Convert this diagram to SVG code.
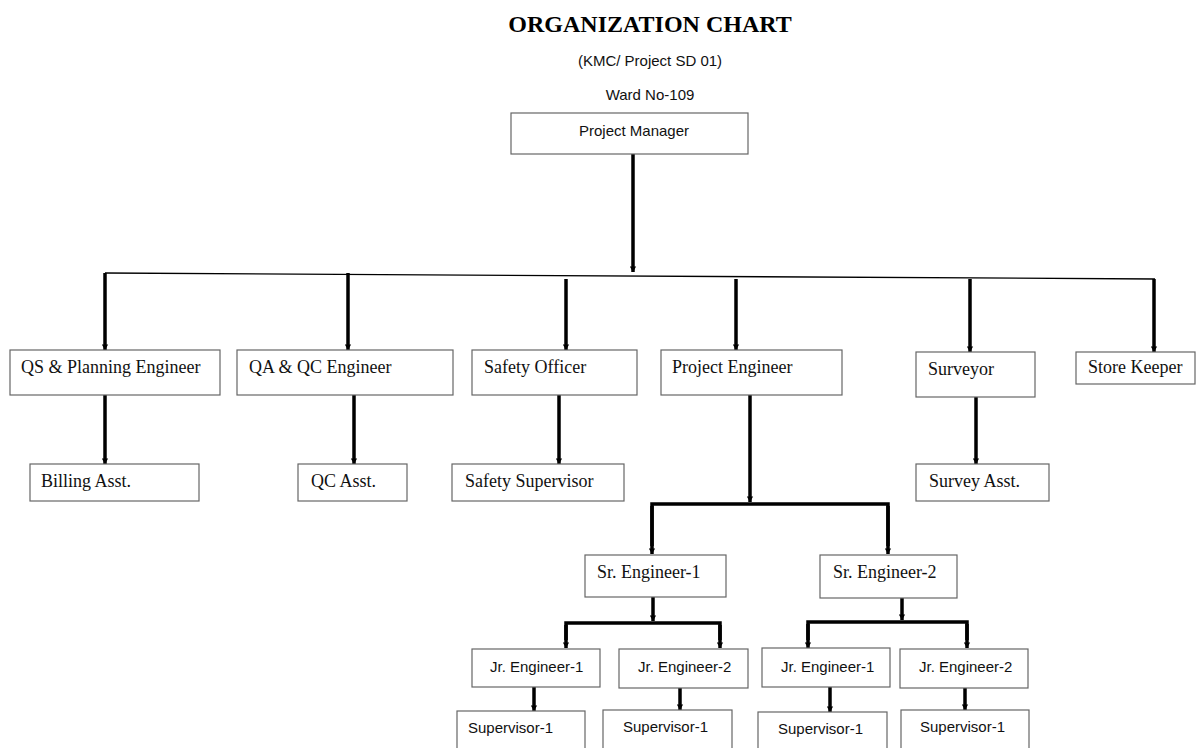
<svg xmlns="http://www.w3.org/2000/svg" width="1198" height="748" viewBox="0 0 1198 748">
<style>
.box{fill:#fff;stroke:#666;stroke-width:1.2}
.tt{font-family:"Liberation Serif",serif;font-size:18px;fill:#111}
.st{font-family:"Liberation Sans",sans-serif;font-size:15px;fill:#111}
.ln{stroke:#000;stroke-width:3.5;fill:none}
.thin{stroke:#000;stroke-width:1.3;fill:none}
</style>
<defs>
<marker id="a" markerUnits="userSpaceOnUse" markerWidth="9" markerHeight="7" refX="7" refY="4.5" orient="auto" viewBox="0 0 9 9">
<path d="M0,0.5 L7,4.5 L0,8.5 Z" fill="#000"/>
</marker>
</defs>
<rect width="1198" height="748" fill="#fff"/>
<text x="650" y="32" text-anchor="middle" font-family="Liberation Serif, serif" font-size="24" font-weight="bold">ORGANIZATION CHART</text>
<text x="650" y="66" text-anchor="middle" class="st" font-size="14">(KMC/ Project SD 01)</text>
<text x="650" y="100" text-anchor="middle" class="st" font-size="14">Ward No-109</text>

<g id="connectors">
<line class="ln" x1="633" y1="154" x2="633" y2="272" marker-end="url(#a)"/>
<line class="thin" x1="105" y1="273" x2="1155" y2="279"/>
<line class="ln" x1="105" y1="273" x2="105" y2="350" marker-end="url(#a)"/>
<line class="ln" x1="348" y1="273" x2="348" y2="350" marker-end="url(#a)"/>
<line class="ln" x1="566" y1="279" x2="566" y2="350" marker-end="url(#a)"/>
<line class="ln" x1="736" y1="279" x2="736" y2="350" marker-end="url(#a)"/>
<line class="ln" x1="970" y1="279" x2="970" y2="352" marker-end="url(#a)"/>
<line class="ln" x1="1154" y1="279" x2="1154" y2="352" marker-end="url(#a)"/>
<line class="ln" x1="105" y1="395" x2="105" y2="464" marker-end="url(#a)"/>
<line class="ln" x1="354" y1="395" x2="354" y2="464" marker-end="url(#a)"/>
<line class="ln" x1="559" y1="395" x2="559" y2="464" marker-end="url(#a)"/>
<line class="ln" x1="976" y1="397" x2="976" y2="464" marker-end="url(#a)"/>
<line class="ln" x1="750" y1="395" x2="750" y2="502" marker-end="url(#a)"/>
<polyline class="ln" points="652,546 652,504 888,504 888,546"/>
<line class="ln" x1="652" y1="506" x2="652" y2="554" marker-end="url(#a)"/>
<line class="ln" x1="888" y1="506" x2="888" y2="554" marker-end="url(#a)"/>
<line class="ln" x1="653" y1="597" x2="653" y2="621" marker-end="url(#a)"/>
<polyline class="ln" points="566,640 566,623 720,623 720,640"/>
<line class="ln" x1="566" y1="625" x2="566" y2="648" marker-end="url(#a)"/>
<line class="ln" x1="720" y1="625" x2="720" y2="648" marker-end="url(#a)"/>
<line class="ln" x1="902" y1="598" x2="902" y2="620" marker-end="url(#a)"/>
<polyline class="ln" points="808,640 808,622 967,622 967,640"/>
<line class="ln" x1="808" y1="624" x2="808" y2="648" marker-end="url(#a)"/>
<line class="ln" x1="967" y1="624" x2="967" y2="648" marker-end="url(#a)"/>
<line class="ln" x1="534" y1="687" x2="534" y2="711" marker-end="url(#a)"/>
<line class="ln" x1="680" y1="688" x2="680" y2="710" marker-end="url(#a)"/>
<line class="ln" x1="830" y1="687" x2="830" y2="712" marker-end="url(#a)"/>
<line class="ln" x1="965" y1="688" x2="965" y2="710" marker-end="url(#a)"/>
</g>

<g id="pm"><rect class="box" x="511" y="113" width="237" height="41"/><text class="st" x="634" y="136" text-anchor="middle">Project Manager</text></g>
<g id="qs"><rect class="box" x="10" y="350" width="210" height="45"/><text class="tt" x="21" y="373">QS &amp; Planning Engineer</text></g>
<g id="qa"><rect class="box" x="237" y="350" width="216" height="45"/><text class="tt" x="249" y="373">QA &amp; QC Engineer</text></g>
<g id="safety"><rect class="box" x="472" y="350" width="165" height="45"/><text class="tt" x="484" y="373">Safety Officer</text></g>
<g id="pe"><rect class="box" x="661" y="350" width="181" height="45"/><text class="tt" x="672" y="373">Project Engineer</text></g>
<g id="surveyor"><rect class="box" x="916" y="352" width="119" height="45"/><text class="tt" x="928" y="375">Surveyor</text></g>
<g id="store"><rect class="box" x="1076" y="352" width="119" height="32"/><text class="tt" x="1088" y="373">Store Keeper</text></g>
<g id="billing"><rect class="box" x="30" y="464" width="169" height="37"/><text class="tt" x="41" y="487">Billing Asst.</text></g>
<g id="qcasst"><rect class="box" x="298" y="464" width="109" height="37"/><text class="tt" x="311" y="487">QC Asst.</text></g>
<g id="safetysup"><rect class="box" x="452" y="464" width="172" height="37"/><text class="tt" x="465" y="487">Safety Supervisor</text></g>
<g id="surveyasst"><rect class="box" x="916" y="464" width="133" height="37"/><text class="tt" x="929" y="487">Survey Asst.</text></g>
<g id="sr1"><rect class="box" x="585" y="555" width="141" height="42"/><text class="tt" x="597" y="578">Sr. Engineer-1</text></g>
<g id="sr2"><rect class="box" x="820" y="555" width="137" height="43"/><text class="tt" x="833" y="578">Sr. Engineer-2</text></g>
<g id="jr1a"><rect class="box" x="472" y="649" width="128" height="38"/><text class="st" x="490" y="672">Jr. Engineer-1</text></g>
<g id="jr2a"><rect class="box" x="619" y="649" width="129" height="39"/><text class="st" x="638" y="672">Jr. Engineer-2</text></g>
<g id="jr1b"><rect class="box" x="762" y="648" width="128" height="39"/><text class="st" x="781" y="672">Jr. Engineer-1</text></g>
<g id="jr2b"><rect class="box" x="900" y="649" width="128" height="39"/><text class="st" x="919" y="672">Jr. Engineer-2</text></g>
<g id="sup1a"><rect class="box" x="457" y="711" width="128" height="50"/><text class="st" x="468" y="733">Supervisor-1</text></g>
<g id="sup2a"><rect class="box" x="603" y="710" width="129" height="50"/><text class="st" x="623" y="732">Supervisor-1</text></g>
<g id="sup1b"><rect class="box" x="758" y="712" width="129" height="50"/><text class="st" x="778" y="734">Supervisor-1</text></g>
<g id="sup2b"><rect class="box" x="901" y="710" width="128" height="50"/><text class="st" x="920" y="732">Supervisor-1</text></g>
</svg>
